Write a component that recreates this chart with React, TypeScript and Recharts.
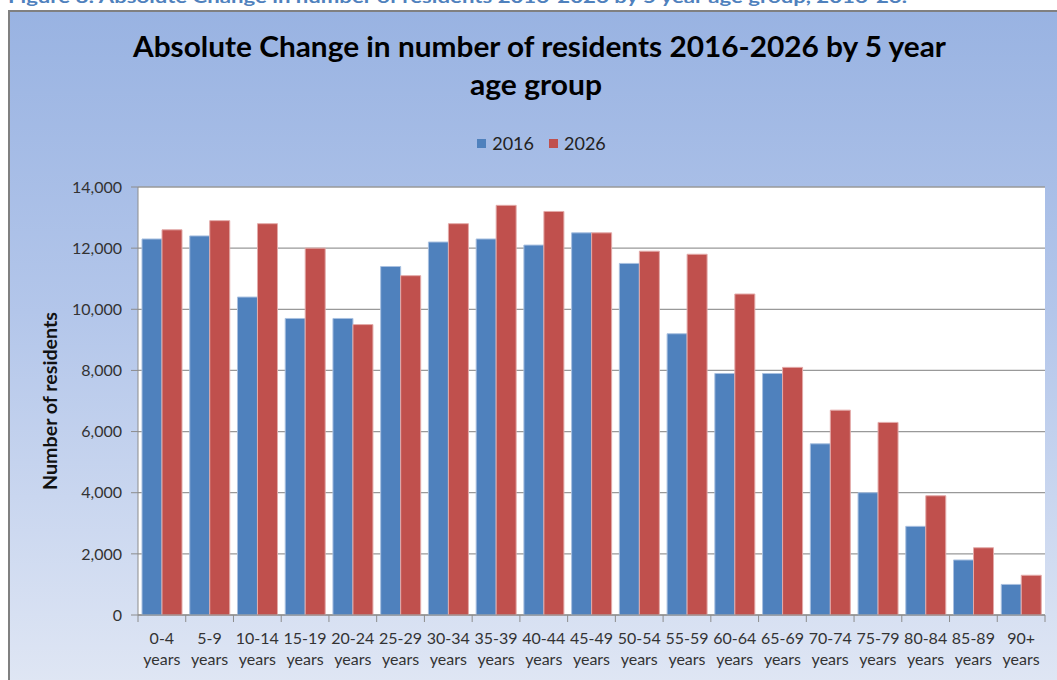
import React from "react";
import { BarChart, Bar, XAxis, YAxis, CartesianGrid, Legend } from "recharts";

const ageGroups = [
  "0-4 years", "5-9 years", "10-14 years", "15-19 years", "20-24 years",
  "25-29 years", "30-34 years", "35-39 years", "40-44 years", "45-49 years",
  "50-54 years", "55-59 years", "60-64 years", "65-69 years", "70-74 years",
  "75-79 years", "80-84 years", "85-89 years", "90+ years",
];
const residents2016 = [
  12300, 12400, 10400, 9700, 9700, 11400, 12200, 12300, 12100, 12500,
  11500, 9200, 7900, 7900, 5600, 4000, 2900, 1800, 1000,
];
const residents2026 = [
  12600, 12900, 12800, 12000, 9500, 11100, 12800, 13400, 13200, 12500,
  11900, 11800, 10500, 8100, 6700, 6300, 3900, 2200, 1300,
];
const yTicks = [0, 2000, 4000, 6000, 8000, 10000, 12000, 14000];
const seriesNames = ["2016", "2026"];
const yAxisTitle = "Number of residents";

const data = ageGroups.map((age, i) => ({
  age,
  y2016: residents2016[i],
  y2026: residents2026[i],
}));

const W = 1057;
const H = 680;
const MARGIN = { top: 187, right: 12, bottom: 0, left: 8 };
const Y_AXIS_W = 130;
const X_AXIS_H = 65;
const PLOT_W = W - MARGIN.left - MARGIN.right - Y_AXIS_W;
const BAND = PLOT_W / ageGroups.length;
const FONT = "Lato, 'Open Sans', sans-serif";
const AXIS_GRAY = "#8c8c8c";

const XTick = (props: any) => {
  const { x, y, payload, index } = props;
  const parts = String(payload.value).split(" ");
  const left = x - BAND / 2;
  const right = x + BAND / 2;
  return (
    <g>
      <line x1={left} x2={left} y1={y} y2={y + 7} stroke={AXIS_GRAY} strokeWidth={1} />
      {index === ageGroups.length - 1 && (
        <line x1={right} x2={right} y1={y} y2={y + 7} stroke={AXIS_GRAY} strokeWidth={1} />
      )}
      <text x={x} y={y + 29} textAnchor="middle" fontFamily={FONT} fontSize={16} fill="#333">
        {parts[0]}
      </text>
      <text x={x} y={y + 50} textAnchor="middle" fontFamily={FONT} fontSize={16} fill="#333">
        {parts[1]}
      </text>
    </g>
  );
};

const YTitle = (props: any) => {
  const vb = props.viewBox || {};
  const cx = (vb.x || 0) + 41;
  const cy = (vb.y || 0) + (vb.height || 0) / 2;
  return (
    <text
      x={cx}
      y={cy}
      transform={`rotate(-90 ${cx} ${cy})`}
      textAnchor="middle"
      dominantBaseline="central"
      fontFamily={FONT}
      fontSize={19}
      fontWeight={700}
      fill="#111"
      textLength={178}
      lengthAdjust="spacingAndGlyphs"
    >
      {yAxisTitle}
    </text>
  );
};

const renderLegend = (props: any) => {
  const payload = props.payload || [];
  return (
    <div
      style={{
        display: "flex",
        justifyContent: "center",
        alignItems: "center",
        fontFamily: FONT,
        fontSize: 18,
        color: "#222",
        height: 24,
      }}
    >
      {payload.map((p: any, i: number) => (
        <span
          key={i}
          style={{ display: "flex", alignItems: "center", marginRight: i === payload.length - 1 ? 0 : 15 }}
        >
          <span style={{ width: 9, height: 9, background: p.color, marginRight: 6, display: "inline-block" }} />
          {p.value}
        </span>
      ))}
    </div>
  );
};

export default function App() {
  return (
    <div
      style={{
        position: "absolute",
        left: 0,
        top: 0,
        width: W,
        height: H,
        overflow: "hidden",
        background: "#ffffff",
      }}
    >
      <div
        style={{
          position: "absolute",
          left: 8,
          top: 10,
          width: 1200,
          height: 800,
          border: "2px solid #808080",
          background: "linear-gradient(to bottom, #99b3e2 0px, #b3c6ea 300px, #dfe6f4 670px)",
        }}
      />
      <div style={{ position: "absolute", left: 0, top: 0 }}>
        <BarChart
          width={W}
          height={H}
          data={data}
          margin={MARGIN}
          barCategoryGap={4}
          barGap={0}
        >
          <CartesianGrid
            vertical={false}
            stroke="#999999"
            strokeWidth={1.3}
            fill="#ffffff"
            fillOpacity={1}
          />
          <XAxis
            dataKey="age"
            interval={0}
            height={X_AXIS_H}
            tickLine={false}
            tickSize={0}
            tickMargin={0}
            axisLine={{ stroke: AXIS_GRAY, strokeWidth: 1 }}
            tick={<XTick />}
          />
          <YAxis
            width={Y_AXIS_W}
            domain={[0, 14000]}
            ticks={yTicks}
            interval={0}
            tickSize={7}
            tickMargin={9}
            tickLine={{ stroke: AXIS_GRAY }}
            axisLine={{ stroke: AXIS_GRAY, strokeWidth: 1 }}
            tickFormatter={(v: number) => v.toLocaleString("en-US")}
            tick={{ fontFamily: FONT, fontSize: 16, fill: "#333" }}
            label={{ position: "insideLeft", content: <YTitle /> }}
          />
          <Legend
            layout="horizontal"
            verticalAlign="middle"
            align="center"
            wrapperStyle={{ top: 131, left: 13, width: W, height: 24 }}
            content={renderLegend}
          />
          <Bar
            dataKey="y2016"
            name={seriesNames[0]}
            fill="#4F81BD"
            stroke="#a9c0e0"
            strokeWidth={1}
            isAnimationActive={false}
          />
          <Bar
            dataKey="y2026"
            name={seriesNames[1]}
            fill="#C0504D"
            stroke="#e3aaa9"
            strokeWidth={1}
            isAnimationActive={false}
          />
        </BarChart>
      </div>
      <svg
        width={W}
        height={H}
        style={{ position: "absolute", left: 0, top: 0, pointerEvents: "none" }}
      >
        <text
          x={8}
          y={3}
          fontFamily={FONT}
          fontSize={17}
          fontWeight={700}
          fill="#4F81BD"
          textLength={899}
          lengthAdjust="spacingAndGlyphs"
        >
          Figure 8: Absolute Change in number of residents 2016-2026 by 5 year age group, 2016-26.
        </text>
        <text
          x={133}
          y={57}
          fontFamily={FONT}
          fontSize={28}
          fontWeight={700}
          fill="#000"
          textLength={813}
          lengthAdjust="spacingAndGlyphs"
        >
          Absolute Change in number of residents 2016-2026 by 5 year
        </text>
        <text
          x={470}
          y={95}
          fontFamily={FONT}
          fontSize={28}
          fontWeight={700}
          fill="#000"
          textLength={132}
          lengthAdjust="spacingAndGlyphs"
        >
          age group
        </text>
      </svg>
    </div>
  );
}
